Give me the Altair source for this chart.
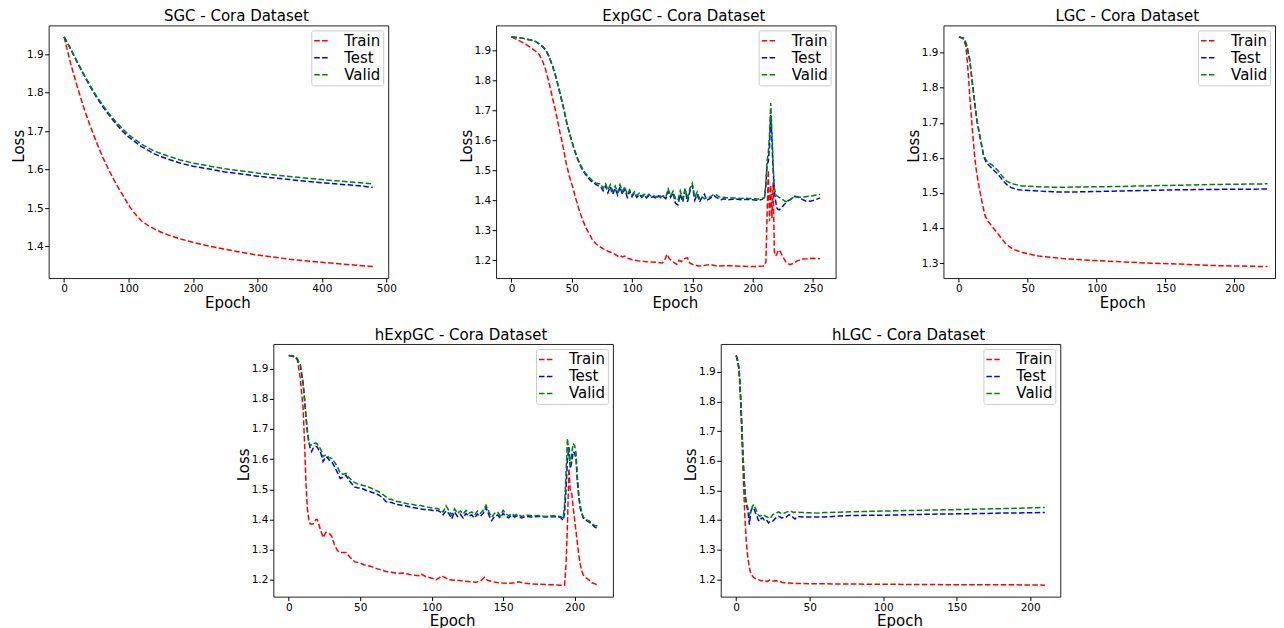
import altair as alt
import pandas as pd

SERIES = ["Train", "Test", "Valid"]
COLORS = ["#ff0000", "#0000ff", "#008000"]
FONT = "DejaVu Sans"

# ---------------- SGC ----------------
SGC_TRAIN = [(0, 1.945), (10, 1.877), (20, 1.818), (30, 1.764), (40, 1.716), (50, 1.672), (60, 1.632),
             (70, 1.597), (80, 1.565), (90, 1.537), (100, 1.508), (110, 1.485), (120, 1.467), (130, 1.455),
             (140, 1.446), (150, 1.438), (160, 1.431), (180, 1.420), (200, 1.411), (225, 1.401), (250, 1.393),
             (275, 1.385), (300, 1.378), (350, 1.367), (400, 1.359), (450, 1.352), (479, 1.348)]
SGC_TEST = [(0, 1.945), (10, 1.914), (20, 1.880), (30, 1.848), (40, 1.817), (50, 1.789), (60, 1.764),
            (70, 1.741), (80, 1.720), (90, 1.701), (100, 1.685), (120, 1.660), (140, 1.641), (160, 1.628),
            (180, 1.617), (200, 1.609), (250, 1.594), (300, 1.583), (350, 1.574), (400, 1.566), (450, 1.559),
            (479, 1.554)]
SGC_VALID = [(0, 1.945), (10, 1.915), (20, 1.882), (30, 1.850), (40, 1.820), (50, 1.792), (60, 1.768),
             (70, 1.745), (80, 1.725), (90, 1.707), (100, 1.691), (120, 1.666), (140, 1.648), (160, 1.636),
             (180, 1.625), (200, 1.617), (250, 1.602), (300, 1.591), (350, 1.582), (400, 1.574), (450, 1.567),
             (479, 1.563)]

# ---------------- ExpGC ----------------
EXP_TRAIN = [(0, 1.945), (5, 1.935), (10, 1.925), (15, 1.912), (20, 1.897), (23, 1.886), (26, 1.862),
             (28, 1.840), (31, 1.795), (34, 1.742), (37, 1.690), (40, 1.630), (42, 1.595), (45, 1.530),
             (48, 1.480), (51, 1.441), (53, 1.410), (56, 1.369), (59, 1.335), (62, 1.306), (65, 1.285),
             (67, 1.269), (70, 1.255), (73, 1.246), (76, 1.238), (78, 1.236), (80, 1.230), (83, 1.226),
             (86, 1.220), (88, 1.214), (90, 1.216), (92, 1.211), (94, 1.214), (96, 1.207), (98, 1.205),
             (100, 1.202), (105, 1.198), (110, 1.196), (115, 1.194), (120, 1.193), (125, 1.191), (127, 1.200),
             (129, 1.220), (131, 1.205), (133, 1.198), (135, 1.192), (137, 1.186), (139, 1.200), (141, 1.196),
             (143, 1.205), (146, 1.208), (148, 1.190), (151, 1.185), (155, 1.181), (160, 1.183), (165, 1.186),
             (170, 1.181), (180, 1.182), (190, 1.180), (200, 1.179), (205, 1.180), (209, 1.181), (210, 1.183),
             (211, 1.195), (212, 1.350), (213, 1.500), (214, 1.330), (215, 1.450), (216, 1.340), (217, 1.460),
             (218, 1.230), (219, 1.215), (220, 1.220), (221, 1.230), (222, 1.235), (223, 1.228), (225, 1.212),
             (228, 1.192), (231, 1.185), (234, 1.190), (237, 1.198), (241, 1.204), (245, 1.205), (250, 1.207),
             (256, 1.205)]
EXP_TEST = [(0, 1.945), (10, 1.940), (20, 1.930), (25, 1.915), (28, 1.903), (31, 1.880), (34, 1.848),
            (37, 1.808), (40, 1.760), (43, 1.710), (46, 1.655), (49, 1.610), (52, 1.570), (55, 1.535),
            (58, 1.508), (61, 1.488), (64, 1.473), (67, 1.461), (70, 1.453), (72, 1.448), (74, 1.445),
            (76, 1.432), (78, 1.448), (80, 1.425), (82, 1.445), (84, 1.420), (86, 1.440), (88, 1.418),
            (90, 1.445), (92, 1.420), (94, 1.438), (96, 1.410), (98, 1.430), (100, 1.412), (102, 1.425),
            (104, 1.410), (106, 1.420), (108, 1.410), (110, 1.418), (112, 1.408), (114, 1.415), (116, 1.410),
            (118, 1.412), (120, 1.405), (122, 1.415), (124, 1.408), (126, 1.412), (128, 1.405), (130, 1.430),
            (132, 1.410), (134, 1.425), (136, 1.390), (138, 1.385), (140, 1.420), (142, 1.395), (144, 1.435),
            (146, 1.395), (148, 1.430), (150, 1.450), (152, 1.400), (154, 1.420), (156, 1.395), (158, 1.410),
            (160, 1.420), (162, 1.400), (164, 1.405), (166, 1.410), (168, 1.415), (170, 1.410), (172, 1.405),
            (174, 1.402), (176, 1.405), (180, 1.402), (185, 1.405), (190, 1.402), (195, 1.403), (200, 1.402),
            (205, 1.400), (208, 1.403), (210, 1.410), (211, 1.450), (212, 1.520), (213, 1.530), (214, 1.580),
            (215, 1.685), (216, 1.600), (217, 1.500), (218, 1.430), (219, 1.400), (220, 1.375), (221, 1.370),
            (222, 1.368), (224, 1.375), (226, 1.385), (229, 1.397), (232, 1.405), (235, 1.413), (238, 1.410),
            (241, 1.403), (244, 1.398), (248, 1.397), (252, 1.402), (256, 1.408)]
EXP_VALID = [(0, 1.945), (10, 1.940), (20, 1.930), (25, 1.916), (28, 1.905), (31, 1.882), (34, 1.850),
             (37, 1.810), (40, 1.762), (43, 1.712), (46, 1.657), (49, 1.612), (52, 1.572), (55, 1.538),
             (58, 1.512), (61, 1.492), (64, 1.478), (67, 1.466), (70, 1.458), (72, 1.455), (74, 1.455),
             (76, 1.440), (78, 1.455), (80, 1.435), (82, 1.452), (84, 1.430), (86, 1.448), (88, 1.425),
             (90, 1.452), (92, 1.430), (94, 1.445), (96, 1.420), (98, 1.435), (100, 1.418), (102, 1.428),
             (104, 1.415), (106, 1.424), (108, 1.414), (110, 1.420), (112, 1.413), (114, 1.420), (116, 1.413),
             (118, 1.416), (120, 1.410), (122, 1.418), (124, 1.412), (126, 1.415), (128, 1.410), (130, 1.438),
             (132, 1.415), (134, 1.430), (136, 1.405), (138, 1.400), (140, 1.432), (142, 1.405), (144, 1.440),
             (146, 1.405), (148, 1.440), (150, 1.457), (152, 1.410), (154, 1.428), (156, 1.405), (158, 1.412),
             (160, 1.405), (162, 1.410), (164, 1.410), (166, 1.415), (168, 1.420), (170, 1.418), (172, 1.412),
             (174, 1.408), (176, 1.410), (180, 1.407), (185, 1.408), (190, 1.406), (195, 1.407), (200, 1.405),
             (205, 1.404), (208, 1.406), (210, 1.410), (211, 1.460), (212, 1.530), (213, 1.560), (214, 1.620),
             (215, 1.724), (216, 1.630), (217, 1.520), (218, 1.440), (219, 1.425), (220, 1.415), (222, 1.410),
             (224, 1.405), (227, 1.397), (229, 1.395), (232, 1.405), (235, 1.413), (238, 1.410), (241, 1.410),
             (245, 1.413), (250, 1.415), (256, 1.420)]

# ---------------- LGC ----------------
LGC_TRAIN = [(0, 1.945), (3, 1.940), (5, 1.920), (6, 1.880), (7, 1.830), (8, 1.770), (9, 1.720),
             (10, 1.670), (11, 1.625), (12, 1.585), (13, 1.555), (15, 1.510), (17, 1.470), (19, 1.435),
             (21, 1.420), (24, 1.405), (29, 1.380), (34, 1.355), (39, 1.340), (46, 1.330), (58, 1.320),
             (75, 1.313), (99, 1.307), (136, 1.300), (160, 1.297), (184, 1.293), (224, 1.290)]
LGC_TEST = [(0, 1.945), (4, 1.940), (6, 1.916), (8, 1.875), (10, 1.805), (12, 1.740), (13, 1.708),
            (15, 1.665), (17, 1.625), (18, 1.603), (20, 1.586), (22, 1.578), (24, 1.570), (26, 1.562),
            (28, 1.555), (30, 1.545), (32, 1.535), (35, 1.523), (38, 1.515), (42, 1.510), (46, 1.508),
            (55, 1.506), (70, 1.503), (87, 1.503), (111, 1.505), (135, 1.507), (160, 1.509), (184, 1.510),
            (224, 1.511)]
LGC_VALID = [(0, 1.945), (4, 1.940), (6, 1.917), (8, 1.877), (10, 1.808), (12, 1.743), (13, 1.711),
             (15, 1.668), (17, 1.628), (18, 1.607), (20, 1.592), (22, 1.586), (24, 1.580), (26, 1.572),
             (28, 1.565), (30, 1.555), (32, 1.545), (35, 1.533), (38, 1.527), (42, 1.523), (46, 1.520),
             (55, 1.518), (70, 1.516), (87, 1.517), (111, 1.518), (135, 1.520), (160, 1.522), (184, 1.524),
             (224, 1.526)]

# ---------------- hExpGC ----------------
HEXP_TRAIN = [(0, 1.944), (3, 1.943), (6, 1.930), (8, 1.870), (10, 1.770), (11, 1.660), (12, 1.524),
              (13, 1.436), (14, 1.400), (15, 1.385), (17, 1.385), (19, 1.400), (20, 1.400), (22, 1.368),
              (24, 1.340), (26, 1.357), (28, 1.355), (30, 1.345), (32, 1.315), (34, 1.297), (36, 1.290),
              (38, 1.290), (40, 1.290), (43, 1.274), (46, 1.260), (50, 1.255), (53, 1.249), (57, 1.245),
              (60, 1.240), (62, 1.236), (65, 1.232), (68, 1.227), (72, 1.225), (76, 1.220), (80, 1.222),
              (84, 1.218), (88, 1.215), (92, 1.213), (93, 1.218), (96, 1.210), (100, 1.205), (103, 1.200),
              (105, 1.205), (107, 1.213), (109, 1.208), (112, 1.200), (116, 1.198), (120, 1.197),
              (123, 1.195), (127, 1.193), (131, 1.192), (134, 1.195), (137, 1.208), (139, 1.198),
              (143, 1.193), (147, 1.190), (150, 1.189), (155, 1.188), (158, 1.190), (161, 1.193),
              (165, 1.188), (170, 1.186), (175, 1.185), (180, 1.184), (185, 1.183), (190, 1.182),
              (193, 1.182), (194, 1.250), (195, 1.380), (196, 1.569), (197, 1.492), (198, 1.486),
              (199, 1.440), (200, 1.400), (201, 1.360), (202, 1.320), (203, 1.280), (204, 1.250),
              (205, 1.230), (206, 1.217), (207, 1.210), (208, 1.206), (210, 1.200), (212, 1.190),
              (214, 1.187), (216, 1.182)]
HEXP_TEST = [(0, 1.944), (5, 1.938), (8, 1.913), (10, 1.850), (11, 1.800), (12, 1.740), (13, 1.690),
             (14, 1.658), (15, 1.635), (16, 1.625), (17, 1.636), (18, 1.640), (19, 1.642), (20, 1.640),
             (21, 1.630), (22, 1.625), (23, 1.610), (24, 1.592), (25, 1.600), (26, 1.608), (27, 1.605),
             (28, 1.598), (30, 1.592), (32, 1.575), (34, 1.556), (36, 1.536), (38, 1.540), (40, 1.547),
             (42, 1.530), (44, 1.519), (46, 1.508), (48, 1.505), (51, 1.503), (54, 1.497), (57, 1.492),
             (60, 1.487), (63, 1.481), (66, 1.470), (68, 1.459), (70, 1.457), (72, 1.456), (75, 1.450),
             (78, 1.448), (80, 1.446), (83, 1.444), (86, 1.440), (89, 1.438), (92, 1.435), (95, 1.433),
             (98, 1.432), (101, 1.430), (104, 1.430), (106, 1.425), (108, 1.415), (110, 1.428), (112, 1.420),
             (114, 1.402), (116, 1.425), (118, 1.410), (120, 1.418), (122, 1.405), (124, 1.420), (126, 1.410),
             (128, 1.415), (130, 1.405), (132, 1.418), (134, 1.410), (136, 1.420), (138, 1.440), (140, 1.415),
             (142, 1.396), (144, 1.410), (146, 1.415), (148, 1.405), (150, 1.420), (152, 1.410), (154, 1.405),
             (156, 1.415), (158, 1.408), (160, 1.412), (163, 1.405), (166, 1.410), (170, 1.408), (175, 1.410),
             (180, 1.408), (185, 1.410), (190, 1.407), (192, 1.397), (193, 1.420), (194, 1.500), (195, 1.600),
             (196, 1.640), (197, 1.569), (198, 1.590), (199, 1.625), (200, 1.620), (201, 1.600), (202, 1.520),
             (203, 1.470), (204, 1.436), (205, 1.420), (206, 1.405), (208, 1.398), (210, 1.392), (212, 1.385),
             (214, 1.375), (216, 1.370)]
HEXP_VALID = [(0, 1.944), (5, 1.940), (8, 1.915), (10, 1.855), (11, 1.800), (12, 1.745), (13, 1.695),
              (14, 1.660), (15, 1.645), (16, 1.647), (17, 1.653), (18, 1.652), (19, 1.653), (20, 1.650),
              (21, 1.640), (22, 1.636), (23, 1.625), (24, 1.608), (25, 1.612), (26, 1.614), (27, 1.612),
              (28, 1.605), (30, 1.603), (32, 1.590), (34, 1.575), (36, 1.553), (38, 1.550), (40, 1.553),
              (42, 1.540), (44, 1.530), (46, 1.523), (48, 1.518), (51, 1.514), (54, 1.510), (57, 1.505),
              (60, 1.498), (63, 1.492), (66, 1.482), (68, 1.475), (70, 1.468), (72, 1.466), (75, 1.460),
              (78, 1.458), (80, 1.455), (83, 1.452), (86, 1.450), (89, 1.447), (92, 1.446), (95, 1.443),
              (98, 1.440), (101, 1.437), (104, 1.436), (106, 1.432), (108, 1.425), (110, 1.445), (112, 1.430),
              (114, 1.415), (116, 1.435), (118, 1.420), (120, 1.428), (122, 1.418), (124, 1.430), (126, 1.420),
              (128, 1.425), (130, 1.415), (132, 1.428), (134, 1.420), (136, 1.430), (138, 1.447), (140, 1.425),
              (142, 1.408), (144, 1.420), (146, 1.425), (148, 1.412), (150, 1.430), (152, 1.418), (154, 1.412),
              (156, 1.420), (158, 1.413), (160, 1.418), (163, 1.410), (166, 1.415), (170, 1.412), (175, 1.413),
              (180, 1.410), (185, 1.412), (190, 1.410), (192, 1.405), (193, 1.450), (194, 1.550), (195, 1.669),
              (196, 1.620), (197, 1.580), (198, 1.620), (199, 1.652), (200, 1.645), (201, 1.620), (202, 1.540),
              (203, 1.480), (204, 1.445), (205, 1.425), (206, 1.408), (208, 1.400), (210, 1.395), (212, 1.388),
              (214, 1.380), (216, 1.378)]

# ---------------- hLGC ----------------
HLGC_TRAIN = [(0, 1.955), (1, 1.940), (2, 1.900), (3, 1.800), (4, 1.660), (5, 1.520), (6, 1.400),
              (7, 1.320), (8, 1.270), (9, 1.240), (10, 1.218), (12, 1.205), (14, 1.200), (16, 1.197),
              (17, 1.194), (19, 1.197), (21, 1.192), (23, 1.198), (25, 1.194), (27, 1.195), (29, 1.194),
              (31, 1.190), (34, 1.187), (40, 1.186), (50, 1.185), (70, 1.184), (100, 1.183), (130, 1.182),
              (160, 1.181), (190, 1.181), (210, 1.180)]
HLGC_TEST = [(0, 1.955), (1, 1.935), (2, 1.910), (3, 1.820), (4, 1.700), (5, 1.580), (6, 1.490),
             (7, 1.450), (8, 1.430), (9, 1.384), (10, 1.430), (11, 1.440), (12, 1.440), (13, 1.425),
             (14, 1.415), (15, 1.400), (16, 1.396), (17, 1.405), (18, 1.407), (19, 1.400), (20, 1.402),
             (21, 1.398), (22, 1.390), (23, 1.395), (25, 1.396), (27, 1.407), (29, 1.412), (31, 1.407),
             (34, 1.410), (36, 1.418), (38, 1.412), (40, 1.403), (42, 1.412), (45, 1.410), (50, 1.410),
             (60, 1.410), (70, 1.413), (80, 1.415), (100, 1.416), (120, 1.418), (140, 1.420), (160, 1.421),
             (180, 1.423), (210, 1.425)]
HLGC_VALID = [(0, 1.955), (1, 1.935), (2, 1.910), (3, 1.820), (4, 1.700), (5, 1.580), (6, 1.490),
              (7, 1.455), (8, 1.440), (9, 1.418), (10, 1.430), (11, 1.445), (12, 1.452), (13, 1.440),
              (14, 1.430), (15, 1.418), (16, 1.412), (17, 1.415), (18, 1.418), (19, 1.415), (20, 1.412),
              (21, 1.410), (22, 1.407), (23, 1.405), (25, 1.418), (27, 1.424), (29, 1.427), (31, 1.420),
              (33, 1.424), (35, 1.428), (37, 1.430), (39, 1.425), (41, 1.427), (45, 1.425), (50, 1.424),
              (55, 1.423), (60, 1.425), (70, 1.426), (80, 1.428), (100, 1.430), (120, 1.432), (140, 1.434),
              (160, 1.436), (180, 1.438), (210, 1.442)]

TITLES = ["SGC - Cora Dataset", "ExpGC - Cora Dataset", "LGC - Cora Dataset",
          "hExpGC - Cora Dataset", "hLGC - Cora Dataset"]
X_TICKS = [[0, 100, 200, 300, 400, 500], [0, 50, 100, 150, 200, 250], [0, 50, 100, 150, 200],
           [0, 50, 100, 150, 200], [0, 50, 100, 150, 200]]
Y_TICKS = [[1.4, 1.5, 1.6, 1.7, 1.8, 1.9], [1.2, 1.3, 1.4, 1.5, 1.6, 1.7, 1.8, 1.9],
           [1.3, 1.4, 1.5, 1.6, 1.7, 1.8, 1.9], [1.2, 1.3, 1.4, 1.5, 1.6, 1.7, 1.8, 1.9],
           [1.2, 1.3, 1.4, 1.5, 1.6, 1.7, 1.8, 1.9]]
DATA = [(SGC_TRAIN, SGC_TEST, SGC_VALID), (EXP_TRAIN, EXP_TEST, EXP_VALID),
        (LGC_TRAIN, LGC_TEST, LGC_VALID), (HEXP_TRAIN, HEXP_TEST, HEXP_VALID),
        (HLGC_TRAIN, HLGC_TEST, HLGC_VALID)]

W, H = 340, 253
# the right-hand panel is cut by the page edge in the reference
WIDTHS = [340, 340, 332, 340, 340]


def make_panel(i):
    rows = []
    for name, pts in zip(SERIES, DATA[i]):
        for e, v in pts:
            rows.append({"Epoch": e, "Loss": v, "Series": name})
    df = pd.DataFrame(rows)
    n = df["Epoch"].max()
    lo, hi = df["Loss"].min(), df["Loss"].max()
    m = 0.05 * (hi - lo)
    w = WIDTHS[i]
    x0 = -0.05 * n
    x1 = x0 + 1.1 * n * w / W
    return alt.Chart(df).mark_line(strokeWidth=1.5, strokeDash=[5.5, 2.4], clip=True).encode(
        x=alt.X("Epoch:Q",
                scale=alt.Scale(domain=[x0, x1], nice=False, zero=False),
                axis=alt.Axis(values=X_TICKS[i], format="d", title="Epoch",
                              titleX=179, titleY=29, titleBaseline="alphabetic")),
        y=alt.Y("Loss:Q",
                scale=alt.Scale(domain=[lo - m, hi + m], nice=False, zero=False),
                axis=alt.Axis(values=Y_TICKS[i], format=".1f", title="Loss",
                              titleX=-25, titleY=120.5, titleAngle=270,
                              titleBaseline="alphabetic", titleAlign="center")),
        color=alt.Color("Series:N",
                        scale=alt.Scale(domain=SERIES, range=COLORS),
                        sort=SERIES,
                        legend=alt.Legend(title=None, orient="top-right", offset=5,
                                          symbolType="stroke", symbolSize=225,
                                          symbolStrokeWidth=1.5, symbolDash=[5.5, 2.4],
                                          labelFont=FONT, labelFontSize=15, labelColor="#000",
                                          labelOffset=14, rowPadding=0, padding=2,
                                          strokeColor="#cccccc", fillColor="rgba(255,255,255,0.8)",
                                          cornerRadius=2)),
    ).properties(
        width=w, height=H,
        title=alt.TitleParams(TITLES[i], font=FONT, fontSize=15, fontWeight="normal",
                              color="#000", baseline="alphabetic", offset=-11, dx=18),
    )


panels = [make_panel(i) for i in range(5)]

spacer = alt.Chart(pd.DataFrame({"s": [0]})).mark_point(opacity=0).encode(
    x=alt.X("s:Q", axis=None), y=alt.Y("s:Q", axis=None)
).properties(width=117, height=H, view=alt.ViewBackground(stroke="transparent"))

top = alt.hconcat(panels[0], panels[1], panels[2], spacing=108, bounds="flush").resolve_scale(
    color="independent", x="independent", y="independent").resolve_legend(color="independent")
bottom = alt.hconcat(spacer, panels[3], panels[4], spacing=108, bounds="flush").resolve_scale(
    color="independent", x="independent", y="independent").resolve_legend(color="independent")

chart = alt.vconcat(top, bottom, spacing=16,
                    padding={"left": 2.7, "top": 0, "right": 0, "bottom": 0}).resolve_scale(
    color="independent", x="independent", y="independent").resolve_legend(color="independent")

chart = chart.configure(background="white").configure_view(stroke="#222222", strokeWidth=1).configure_axis(
    domain=False, grid=False, ticks=True, tickSize=4, tickWidth=1, tickColor="#000",
    labelFont=FONT, labelFontSize=10.5, labelColor="#000", labelPadding=1.5,
    titleFont=FONT, titleFontSize=15, titleFontWeight="normal", titleColor="#000",
)

chart.save("out.html", embed_options={"renderer": "svg", "actions": False})
